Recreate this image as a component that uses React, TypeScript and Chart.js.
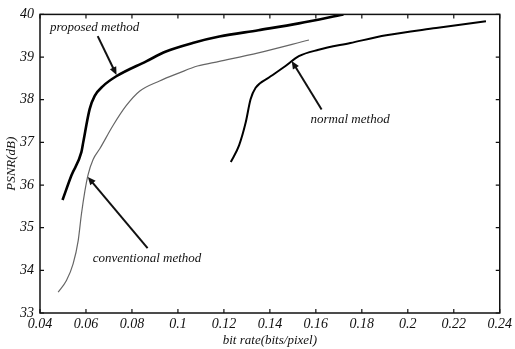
import React, { useEffect, useRef } from "react";
import { Chart, registerables } from "chart.js";
Chart.register(...registerables);

const proposedX = [0.0498, 0.0537, 0.058, 0.0588, 0.0616, 0.0638, 0.0674, 0.0732, 0.0862, 0.0948, 0.1064, 0.118, 0.135, 0.1526, 0.172];
const proposedY = [35.65, 36.23, 36.77, 37.0, 37.78, 38.09, 38.32, 38.55, 38.9, 39.13, 39.33, 39.48, 39.63, 39.79, 40.0];

const conventionalX = [0.0479, 0.0515, 0.0544, 0.0566, 0.058, 0.0595, 0.0609, 0.0631, 0.066, 0.0717, 0.0775, 0.0833, 0.092, 0.1006, 0.1085, 0.118, 0.135, 0.157];
const conventionalY = [33.49, 33.76, 34.15, 34.69, 35.31, 35.85, 36.24, 36.6, 36.85, 37.39, 37.86, 38.2, 38.44, 38.63, 38.79, 38.9, 39.1, 39.4];

const normalX = [0.123, 0.1266, 0.1295, 0.1316, 0.1338, 0.1396, 0.1468, 0.1526, 0.1612, 0.175, 0.1906, 0.2123, 0.234];
const normalY = [36.54, 36.93, 37.47, 38.01, 38.28, 38.52, 38.79, 39.02, 39.17, 39.33, 39.51, 39.68, 39.84];

const xTickLabels = ["0.04", "0.06", "0.08", "0.1", "0.12", "0.14", "0.16", "0.18", "0.2", "0.22", "0.24"];
const yTickLabels = ["33", "34", "35", "36", "37", "38", "39", "40"];

const annotationTexts = ["proposed method", "normal method", "conventional method"];
const annotationTextAt = [[0.0443, 39.7], [0.1577, 37.54], [0.0629, 34.27]];
const annotationArrowFrom = [[0.0651, 39.49], [0.1625, 37.77], [0.0868, 34.52]];
const annotationArrowTo = [[0.0733, 38.58], [0.1495, 38.91], [0.0608, 36.19]];

const FONT = "'Liberation Serif', 'Times New Roman', serif";

const framePlugin = {
  id: "frameAnn",
  afterDatasetsDraw(chart: any) {
    const { ctx, chartArea: a, scales } = chart;
    const xs = scales.x, ys = scales.y;
    ctx.save();
    ctx.strokeStyle = "#111";
    ctx.lineWidth = 1.5;
    ctx.strokeRect(a.left, a.top, a.right - a.left, a.bottom - a.top);
    ctx.lineWidth = 1.2;
    const tl = 4;
    xs.ticks.forEach((t: any) => {
      const px = xs.getPixelForValue(t.value);
      ctx.beginPath();
      ctx.moveTo(px, a.bottom); ctx.lineTo(px, a.bottom - tl);
      ctx.moveTo(px, a.top); ctx.lineTo(px, a.top + tl);
      ctx.stroke();
    });
    ys.ticks.forEach((t: any) => {
      const py = ys.getPixelForValue(t.value);
      ctx.beginPath();
      ctx.moveTo(a.left, py); ctx.lineTo(a.left + tl, py);
      ctx.moveTo(a.right, py); ctx.lineTo(a.right - tl, py);
      ctx.stroke();
    });
    ctx.fillStyle = "#111";
    ctx.font = `italic 13px ${FONT}`;
    ctx.textBaseline = "middle";
    ctx.textAlign = "left";
    annotationTexts.forEach((txt, i) => {
      const tx = xs.getPixelForValue(annotationTextAt[i][0]);
      const ty = ys.getPixelForValue(annotationTextAt[i][1]);
      ctx.fillText(txt, tx, ty);
      const fx = xs.getPixelForValue(annotationArrowFrom[i][0]);
      const fy = ys.getPixelForValue(annotationArrowFrom[i][1]);
      const ex = xs.getPixelForValue(annotationArrowTo[i][0]);
      const ey = ys.getPixelForValue(annotationArrowTo[i][1]);
      const ang = Math.atan2(ey - fy, ex - fx);
      const hl = 8, hw = 3.5;
      ctx.lineWidth = 2;
      ctx.beginPath();
      ctx.moveTo(fx, fy);
      ctx.lineTo(ex - Math.cos(ang) * hl * 0.8, ey - Math.sin(ang) * hl * 0.8);
      ctx.stroke();
      ctx.beginPath();
      ctx.moveTo(ex, ey);
      ctx.lineTo(ex - Math.cos(ang) * hl - Math.sin(ang) * hw, ey - Math.sin(ang) * hl + Math.cos(ang) * hw);
      ctx.lineTo(ex - Math.cos(ang) * hl + Math.sin(ang) * hw, ey - Math.sin(ang) * hl - Math.cos(ang) * hw);
      ctx.closePath();
      ctx.fill();
    });
    ctx.restore();
  },
};

export default function App() {
  const ref = useRef<HTMLCanvasElement>(null);
  useEffect(() => {
    const toPts = (xs: number[], ys: number[]) => xs.map((x, i) => ({ x, y: ys[i] }));
    const chart = new Chart(ref.current!, {
      type: "line",
      data: {
        datasets: [
          { label: "proposed method", data: toPts(proposedX, proposedY), borderColor: "#000", borderWidth: 2.6, pointRadius: 0, cubicInterpolationMode: "monotone", fill: false },
          { label: "conventional method", data: toPts(conventionalX, conventionalY), borderColor: "#666", borderWidth: 1.2, pointRadius: 0, cubicInterpolationMode: "monotone", fill: false },
          { label: "normal method", data: toPts(normalX, normalY), borderColor: "#000", borderWidth: 2, pointRadius: 0, cubicInterpolationMode: "monotone", fill: false },
        ],
      } as any,
      options: {
        animation: false,
        responsive: false,
        maintainAspectRatio: false,
        layout: { padding: { top: 11, right: 13, left: 0, bottom: 0 } },
        plugins: { legend: { display: false }, tooltip: { enabled: false } },
        scales: {
          x: {
            type: "linear",
            min: 0.04,
            max: 0.24,
            afterFit: (s: any) => { s.height = 36; },
            afterBuildTicks: (s: any) => { s.ticks = xTickLabels.map((l) => ({ value: parseFloat(l) })); },
            ticks: {
              callback: (_v: any, i: number) => xTickLabels[i],
              font: { family: FONT, size: 14, style: "italic" },
              color: "#111",
              padding: 3,
              maxRotation: 0,
              autoSkip: false,
            },
            grid: { display: false, drawTicks: false },
            border: { display: false },
            title: { display: true, text: "bit rate(bits/pixel)", font: { family: FONT, size: 13, style: "italic" }, color: "#111", padding: { top: 0, bottom: 1 } },
          },
          y: {
            type: "linear",
            min: 33,
            max: 40,
            afterFit: (s: any) => { s.width = 40; },
            afterBuildTicks: (s: any) => { s.ticks = yTickLabels.map((l) => ({ value: parseFloat(l) })); },
            ticks: {
              callback: (_v: any, i: number) => yTickLabels[i],
              font: { family: FONT, size: 14, style: "italic" },
              color: "#111",
              padding: 6,
              autoSkip: false,
            },
            grid: { display: false, drawTicks: false },
            border: { display: false },
            title: { display: true, text: "PSNR(dB)", font: { family: FONT, size: 13, style: "italic" }, color: "#111", padding: { top: 4, bottom: 0 } },
          },
        },
      },
      plugins: [framePlugin],
    } as any);
    return () => chart.destroy();
  }, []);
  return (
    <div style={{ position: "fixed", left: 0, top: 0, width: 515, height: 349, background: "#fff" }}>
      <canvas ref={ref} width={515} height={349} style={{ width: 515, height: 349 }} />
    </div>
  );
}
